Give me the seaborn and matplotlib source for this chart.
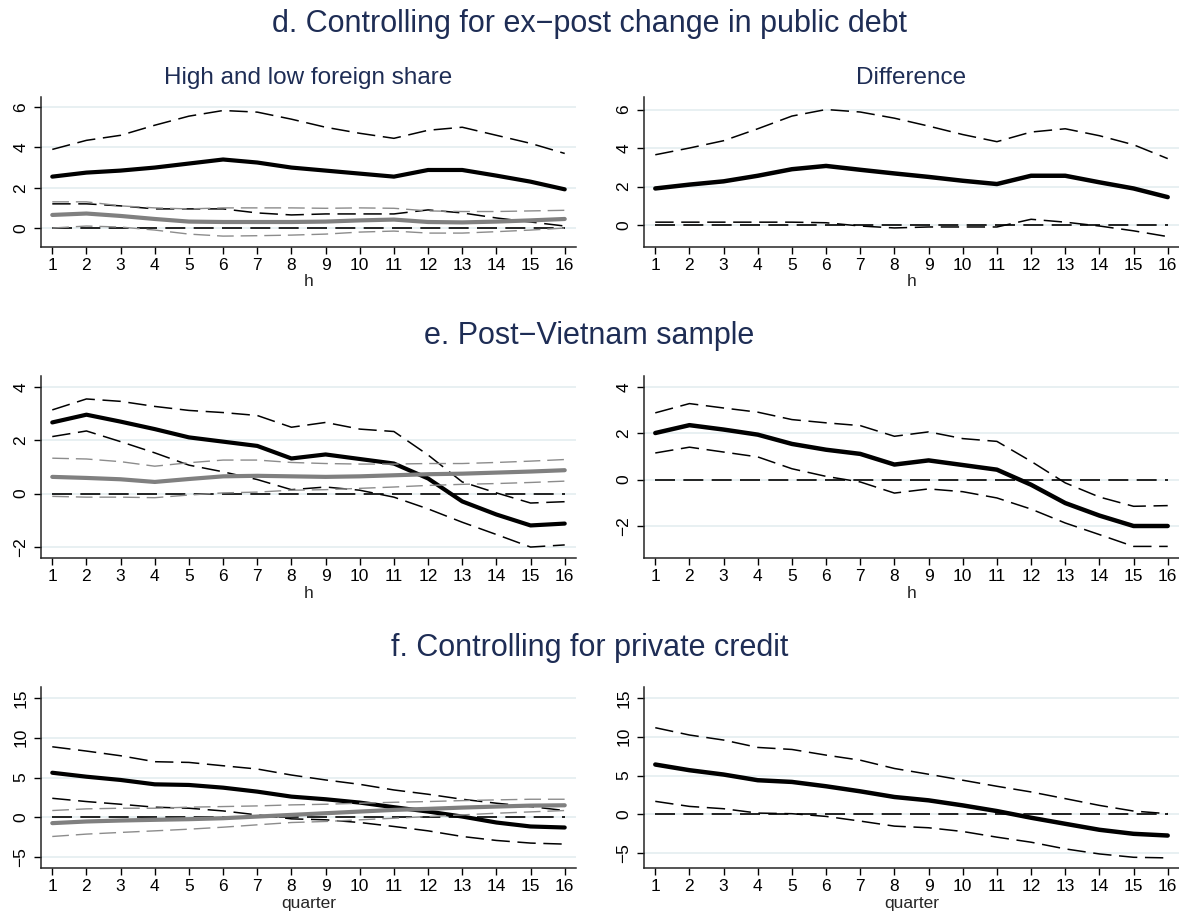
import numpy as np
import pandas as pd
import matplotlib
matplotlib.use('Agg')
import matplotlib.pyplot as plt
import seaborn as sns

sns.set_style("ticks")
plt.rcParams['font.family'] = ['Liberation Sans', 'DejaVu Sans']

# horizon
h = list(range(1, 17))
zero = [0.0] * 16

# d. ex-post change in public debt
d_high = [2.55, 2.75, 2.85, 3.0, 3.2, 3.4, 3.25, 3.0, 2.85, 2.7, 2.55, 2.88, 2.88, 2.6, 2.3, 1.92]
d_high_hi = [3.9, 4.35, 4.6, 5.1, 5.55, 5.83, 5.75, 5.4, 5.0, 4.7, 4.45, 4.85, 5.0, 4.6, 4.2, 3.7]
d_high_lo = [1.2, 1.2, 1.1, 0.95, 0.95, 0.95, 0.75, 0.65, 0.7, 0.7, 0.7, 0.9, 0.75, 0.5, 0.3, 0.1]
d_low = [0.65, 0.72, 0.6, 0.45, 0.32, 0.3, 0.3, 0.3, 0.32, 0.38, 0.42, 0.3, 0.28, 0.32, 0.38, 0.45]
d_low_hi = [1.3, 1.3, 1.1, 1.0, 0.95, 1.0, 1.0, 1.0, 0.98, 1.0, 0.98, 0.85, 0.82, 0.82, 0.85, 0.88]
d_low_lo = [0.0, 0.1, 0.05, -0.1, -0.3, -0.4, -0.38, -0.35, -0.3, -0.2, -0.15, -0.25, -0.25, -0.18, -0.1, 0.0]
d_diff = [1.9, 2.1, 2.27, 2.56, 2.9, 3.07, 2.87, 2.68, 2.5, 2.3, 2.13, 2.56, 2.56, 2.22, 1.9, 1.45]
d_diff_hi = [3.65, 4.0, 4.38, 5.0, 5.66, 6.0, 5.87, 5.55, 5.14, 4.7, 4.33, 4.83, 5.0, 4.64, 4.17, 3.45]
d_diff_lo = [0.15, 0.15, 0.15, 0.15, 0.15, 0.12, -0.05, -0.15, -0.1, -0.1, -0.1, 0.3, 0.15, -0.05, -0.3, -0.6]

# e. post-Vietnam sample
e_high = [2.67, 2.96, 2.7, 2.42, 2.11, 1.95, 1.79, 1.32, 1.47, 1.3, 1.13, 0.57, -0.29, -0.78, -1.19, -1.12]
e_high_hi = [3.14, 3.55, 3.46, 3.27, 3.12, 3.04, 2.93, 2.49, 2.67, 2.42, 2.33, 1.45, 0.44, 0.03, -0.35, -0.3]
e_high_lo = [2.14, 2.35, 1.95, 1.53, 1.07, 0.82, 0.53, 0.15, 0.25, 0.13, -0.13, -0.57, -1.07, -1.53, -2.0, -1.92]
e_low = [0.63, 0.59, 0.54, 0.44, 0.55, 0.65, 0.67, 0.65, 0.63, 0.65, 0.69, 0.73, 0.75, 0.79, 0.83, 0.88]
e_low_hi = [1.33, 1.3, 1.2, 1.03, 1.16, 1.26, 1.26, 1.17, 1.13, 1.11, 1.11, 1.13, 1.13, 1.17, 1.22, 1.28]
e_low_lo = [-0.1, -0.13, -0.13, -0.15, -0.05, 0.03, 0.06, 0.13, 0.15, 0.2, 0.25, 0.31, 0.35, 0.38, 0.42, 0.47]
e_diff = [2.01, 2.35, 2.16, 1.94, 1.54, 1.29, 1.11, 0.65, 0.83, 0.63, 0.43, -0.22, -1.01, -1.55, -2.0, -2.0]
e_diff_hi = [2.88, 3.28, 3.09, 2.91, 2.59, 2.45, 2.33, 1.87, 2.06, 1.77, 1.65, 0.79, -0.14, -0.75, -1.15, -1.12]
e_diff_lo = [1.15, 1.4, 1.19, 0.98, 0.47, 0.14, -0.1, -0.58, -0.4, -0.52, -0.79, -1.27, -1.87, -2.37, -2.88, -2.88]

# f. private credit
f_high = [5.6, 5.1, 4.69, 4.14, 4.06, 3.72, 3.22, 2.59, 2.26, 1.84, 1.26, 0.71, 0.08, -0.67, -1.17, -1.3]
f_high_hi = [8.87, 8.33, 7.74, 6.99, 6.9, 6.48, 6.07, 5.31, 4.69, 4.14, 3.43, 2.89, 2.26, 1.76, 1.34, 0.84]
f_high_lo = [2.38, 1.97, 1.63, 1.26, 1.13, 0.79, 0.29, -0.21, -0.33, -0.67, -1.17, -1.72, -2.43, -2.93, -3.26, -3.39]
f_low = [-0.75, -0.54, -0.42, -0.33, -0.25, -0.13, 0.08, 0.29, 0.5, 0.71, 0.92, 1.05, 1.21, 1.34, 1.46, 1.5]
f_low_hi = [0.84, 1.05, 1.13, 1.13, 1.26, 1.34, 1.42, 1.55, 1.63, 1.76, 1.88, 1.97, 2.09, 2.18, 2.26, 2.26]
f_low_lo = [-2.43, -2.13, -1.92, -1.72, -1.51, -1.26, -0.96, -0.67, -0.54, -0.33, -0.13, 0.08, 0.29, 0.5, 0.67, 0.84]
f_diff = [6.42, 5.69, 5.13, 4.4, 4.18, 3.62, 2.97, 2.24, 1.81, 1.16, 0.43, -0.43, -1.21, -1.98, -2.5, -2.72]
f_diff_hi = [11.16, 10.22, 9.57, 8.62, 8.36, 7.63, 6.98, 5.91, 5.17, 4.4, 3.62, 2.89, 2.03, 1.16, 0.43, 0.09]
f_diff_lo = [1.68, 1.03, 0.73, 0.17, 0.09, -0.26, -0.86, -1.51, -1.72, -2.2, -2.93, -3.58, -4.44, -5.09, -5.52, -5.6]

TITLE_COL = '#1e2d55'
GRID_COL = '#e6eff1'
GRAY = '#808080'
LGRAY = '#8c8c8c'
DASH = (0, (12, 5))

W, H = 1179, 913
fig = plt.figure(figsize=(W / 100, H / 100), dpi=100)


def make_ax(left_px, top_px, bottom_px):
    return fig.add_axes([left_px / W, 1 - bottom_px / H, 535 / W, (bottom_px - top_px) / H])


def style_ax(ax, ylim, yticks, xlabel):
    ax.set_xlim(0.67, 16.33)
    ax.set_ylim(*ylim)
    ax.set_xticks(h)
    ax.set_yticks(yticks)
    ax.set_yticklabels([str(t).replace('-', '\u2212') for t in yticks], rotation=90, va='center')
    for t in yticks:
        ax.axhline(t, color=GRID_COL, lw=1.3, zorder=0)
    ax.tick_params(axis='both', labelsize=12.5, length=5, width=1, colors='black', pad=3)
    ax.tick_params(axis='y', pad=4)
    ax.set_xlabel(xlabel, fontsize=12.5, labelpad=1)
    ax.set_ylabel('')
    sns.despine(ax=ax)
    for sp in ['left', 'bottom']:
        ax.spines[sp].set_linewidth(1.1)


def draw_pair(ax, est, hi, lo, color, lw_main, lw_band):
    sns.lineplot(x=h, y=hi, ax=ax, color=color, lw=lw_band, linestyle=DASH)
    sns.lineplot(x=h, y=lo, ax=ax, color=color, lw=lw_band, linestyle=DASH)
    sns.lineplot(x=h, y=est, ax=ax, color=color, lw=lw_main)


panels = [
    # (row top, row bottom, left series, diff series, ylims, yticks, xlabel)
    (97, 247, (d_high, d_high_hi, d_high_lo, d_low, d_low_hi, d_low_lo),
     (d_diff, d_diff_hi, d_diff_lo), (-0.94, 6.5), (-1.14, 6.65), [0, 2, 4, 6], [0, 2, 4, 6], 'h'),
    (376, 558, (e_high, e_high_hi, e_high_lo, e_low, e_low_hi, e_low_lo),
     (e_diff, e_diff_hi, e_diff_lo), (-2.41, 4.41), (-3.38, 4.47), [-2, 0, 2, 4], [-2, 0, 2, 4], 'h'),
    (687, 868, (f_high, f_high_hi, f_high_lo, f_low, f_low_hi, f_low_lo),
     (f_diff, f_diff_hi, f_diff_lo), (-6.4, 16.4), (-6.9, 16.4), [-5, 0, 5, 10, 15], [-5, 0, 5, 10, 15], 'quarter'),
]

for top, bot, lser, dser, ylim_l, ylim_r, yt_l, yt_r, xl in panels:
    axl = make_ax(41, top, bot)
    sns.lineplot(x=h, y=zero, ax=axl, color='black', lw=1.2, linestyle=DASH)
    draw_pair(axl, lser[0], lser[1], lser[2], 'black', 3.0, 1.1)
    draw_pair(axl, lser[3], lser[4], lser[5], GRAY, 3.0, 1.0)
    for ln in axl.lines[-3:-1]:
        ln.set_color(LGRAY)
    style_ax(axl, ylim_l, yt_l, xl)

    axr = make_ax(644, top, bot)
    sns.lineplot(x=h, y=zero, ax=axr, color='black', lw=1.2, linestyle=DASH)
    draw_pair(axr, dser[0], dser[1], dser[2], 'black', 3.2, 1.1)
    style_ax(axr, ylim_r, yt_r, xl)

# titles
fig.text(0.5, 1 - 24 / H, 'd. Controlling for ex\u2212post change in public debt',
         ha='center', va='center', fontsize=22, color=TITLE_COL)
fig.text(0.5, 1 - 336 / H, 'e. Post\u2212Vietnam sample',
         ha='center', va='center', fontsize=22, color=TITLE_COL)
fig.text(0.5, 1 - 648 / H, 'f. Controlling for private credit',
         ha='center', va='center', fontsize=22, color=TITLE_COL)
fig.text((41 + 535 / 2) / W, 1 - 78 / H, 'High and low foreign share',
         ha='center', va='center', fontsize=17.5, color=TITLE_COL)
fig.text((644 + 535 / 2) / W, 1 - 78 / H, 'Difference',
         ha='center', va='center', fontsize=17.5, color=TITLE_COL)

fig.savefig('out.png', dpi=100, facecolor='white')
